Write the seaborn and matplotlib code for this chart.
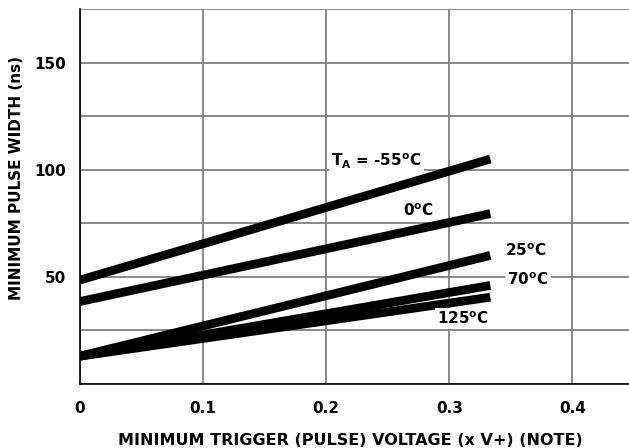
import numpy as np
import pandas as pd
import seaborn as sns
import matplotlib.pyplot as plt

# Values
trigger_v = [0.0, 1 / 3]
temps = ["-55", "0", "25", "70", "125"]
pw_m55 = [48.5, 105]
pw_0 = [38.5, 79.5]
pw_25 = [13, 60]
pw_70 = [13, 46]
pw_125 = [13, 40.5]

x_ticks = [0, 0.1, 0.2, 0.3, 0.4]
x_labels = ["0", "0.1", "0.2", "0.3", "0.4"]
y_ticks = [0, 25, 50, 75, 100, 125, 150, 175]
y_labels = ["", "", "50", "", "100", "", "150", ""]

rows = []
for t, vals in zip(temps, [pw_m55, pw_0, pw_25, pw_70, pw_125]):
    for x, y in zip(trigger_v, vals):
        rows.append({"v": x, "pw": y, "temp": t})
df = pd.DataFrame(rows)

sns.set_style("white")
plt.rcParams["font.family"] = ["DejaVu Sans"]
plt.rcParams["font.weight"] = "bold"
plt.rcParams["mathtext.fontset"] = "dejavusans"
plt.rcParams["mathtext.default"] = "bf"
plt.rcParams["text.color"] = "black"
plt.rcParams["xtick.color"] = "black"
plt.rcParams["ytick.color"] = "black"

fig = plt.figure(figsize=(6.29, 4.48), dpi=100)
ax = fig.add_axes([80 / 629, 64 / 448, 549 / 629, 375 / 448])

sns.lineplot(data=df, x="v", y="pw", hue="temp", hue_order=temps,
             palette=["black"] * 5, linewidth=6.3, legend=False, ax=ax,
             solid_capstyle="butt")

ax.set_xlim(0, 0.446)
ax.set_ylim(0, 175)
ax.set_xticks(x_ticks)
ax.set_xticklabels(x_labels, fontsize=11, fontweight="bold")
ax.set_yticks(y_ticks)
ax.set_yticklabels(y_labels, fontsize=11, fontweight="bold")
ax.tick_params(axis="x", length=0, pad=12, labelcolor="black")
ax.tick_params(axis="y", length=0, pad=10, labelcolor="black")
ax.grid(True, color="#808080", linewidth=1.3)
ax.set_axisbelow(True)
ax.set_xlabel("")
ax.set_ylabel("")

for side in ["top", "right"]:
    ax.spines[side].set_visible(False)
ax.spines["left"].set_color("black")
ax.spines["bottom"].set_color("black")
ax.spines["left"].set_linewidth(1.2)
ax.spines["bottom"].set_linewidth(1.2)

fig.text(350 / 629, (448 - 440) / 448, "MINIMUM TRIGGER (PULSE) VOLTAGE (x V+) (NOTE)",
         ha="center", va="center", fontsize=11.5, fontweight="bold", color="black")
fig.text(17 / 629, 1 - 178 / 448, "MINIMUM PULSE WIDTH (ns)", rotation=90,
         ha="center", va="center", fontsize=11, fontweight="bold", color="black")

box = dict(facecolor="white", edgecolor="none", pad=1.5)
labels = [
    (0.241, 104, r"T$_{A}$ = -55$^{o}$C"),
    (0.275, 81, r"0$^{o}$C"),
    (0.362, 62, r"25$^{o}$C"),
    (0.364, 48.5, r"70$^{o}$C"),
    (0.311, 30.5, r"125$^{o}$C"),
]
for x, y, s in labels:
    ax.text(x, y, s, ha="center", va="center", fontsize=11, fontweight="bold",
            color="black", bbox=box)

fig.savefig("out.png", dpi=100)
